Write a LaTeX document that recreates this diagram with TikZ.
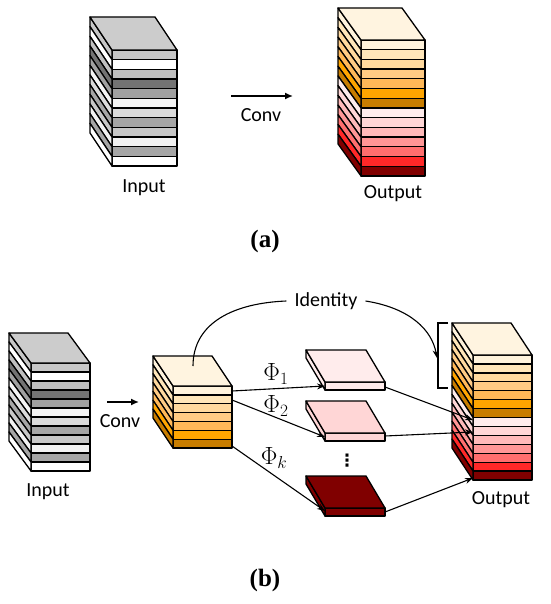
\documentclass[tikz,border=0pt]{standalone}
\usepackage{fontspec}
\setmainfont{Carlito}
\newfontfamily\labfont{Liberation Serif}
\newfontfamily\symfont{DejaVu Sans}
\usetikzlibrary{arrows.meta}
\definecolor{gA}{gray}{0.78}
\definecolor{gB}{gray}{1.0}
\definecolor{gC}{gray}{0.75}
\definecolor{gD}{gray}{0.45}
\definecolor{gE}{gray}{0.63}
\definecolor{gF}{gray}{0.96}
\definecolor{gG}{gray}{0.86}
\definecolor{gH}{gray}{0.65}
\definecolor{gI}{gray}{0.78}
\definecolor{gJ}{gray}{0.95}
\definecolor{gK}{gray}{0.65}
\definecolor{gL}{gray}{1.0}
\definecolor{gTop}{gray}{0.80}
\definecolor{oTop}{RGB}{255,244,224}
\definecolor{oA}{RGB}{255,243,220}
\definecolor{oB}{RGB}{255,230,185}
\definecolor{oC}{RGB}{255,217,158}
\definecolor{oD}{RGB}{255,203,132}
\definecolor{oE}{RGB}{255,184,88}
\definecolor{oF}{RGB}{255,165,0}
\definecolor{oG}{RGB}{200,125,0}
\definecolor{rA}{RGB}{255,236,236}
\definecolor{rB}{RGB}{255,214,214}
\definecolor{rC}{RGB}{255,185,185}
\definecolor{rD}{RGB}{255,150,150}
\definecolor{rE}{RGB}{255,110,110}
\definecolor{rF}{RGB}{255,40,40}
\definecolor{rG}{RGB}{128,0,0}
\tikzset{
  blockline/.style={draw=black, line width=1.3pt, line join=round},
  conn/.style={draw=black, line width=1.1pt, -{Stealth[length=8pt,width=6pt]}},
  bigconn/.style={draw=black, line width=1.5pt, -{Latex[length=8pt,width=7pt]}},
  lab/.style={font=\fontsize{20}{22}\selectfont, inner sep=0pt},
  sublab/.style={font=\labfont\bfseries\fontsize{25}{28}\selectfont, inner sep=0pt},
  philab/.style={font=\fontsize{23}{25}\selectfont, inner sep=0pt}
}
% #1 x, #2 y (front top-left), #3 width, #4 stripe height, #5 dx, #6 dy, #7 top colour, #8 colours
\newcommand{\stackblk}[8]{%
  \foreach \c [count=\i from 0] in {#8} {
    \filldraw[fill=\c, blockline] (#1,#2+\i*#4) rectangle (#1+#3,#2+\i*#4+#4);
    \filldraw[fill=\c, blockline] (#1-#5,#2-#6+\i*#4) -- (#1,#2+\i*#4) -- (#1,#2+\i*#4+#4) -- (#1-#5,#2-#6+\i*#4+#4) -- cycle;
  }
  \filldraw[fill=#7, blockline] (#1-#5,#2-#6) -- (#1+#3-#5,#2-#6) -- (#1+#3,#2) -- (#1,#2) -- cycle;
}
\begin{document}
\begin{tikzpicture}[x=1pt,y=-1pt]
\useasboundingbox (0,0) rectangle (550,604);
\fill[white] (0,0) rectangle (550,604);
% ---------- (a) ----------
\stackblk{112}{50}{65}{9.67}{22}{33}{gTop}{gA,gB,gC,gD,gE,gF,gG,gH,gI,gJ,gK,gL}
\stackblk{361}{40}{64}{9.71}{23}{32}{oTop}{oA,oB,oC,oD,oE,oF,oG,rA,rB,rC,rD,rE,rF,rG}
\node[lab] (inA) at (144,188) {Input};
\node[lab] (outA) at (393,194) {Output};
\coordinate (convAs) at (231,96);
\coordinate (convAe) at (293,96);
\draw[bigconn] (convAs) -- (convAe);
\node[lab] (convA) at (261,115) {Conv};
\node[sublab] (capA) at (265,241) {(a)};
% ---------- (b) ----------
\stackblk{31}{363}{59}{9}{22}{30}{gTop}{gA,gB,gC,gD,gE,gF,gG,gH,gI,gJ,gK,gL}
\stackblk{173}{386}{59}{8.86}{20}{30}{oTop}{oA,oB,oC,oD,oE,oF,oG}
\stackblk{325}{382}{60}{8}{19}{32}{rA}{rA}
\stackblk{325}{433}{60}{8}{19}{32}{rB}{rB}
\stackblk{325}{508}{60}{8}{19}{32}{rG}{rG}
\stackblk{473}{355}{59}{8.93}{21}{32}{oTop}{oA,oB,oC,oD,oE,oF,oG,rA,rB,rC,rD,rE,rF,rG}
\node[lab] (inB) at (48,492) {Input};
\node[lab] (outB) at (501,500) {Output};
\coordinate (convBs) at (107,402);
\coordinate (convBe) at (139,402);
\draw[bigconn] (convBs) -- (convBe);
\node[lab] (convB) at (120,421) {Conv};
% connectors from the conv block to the slabs
\coordinate (m1) at (232,391);
\coordinate (m2) at (232,400);
\coordinate (mk) at (232,446);
\coordinate (s1in) at (325,386);
\coordinate (s2in) at (325,437);
\coordinate (skin) at (325,511);
\draw[conn] (m1) -- (s1in);
\draw[conn] (m2) -- (s2in);
\draw[conn] (mk) -- (skin);
\node[philab] (phi1) at (276,374) {$\Phi_1$};
\node[philab] (phi2) at (276,406) {$\Phi_2$};
\node[philab] (phik) at (274,458) {$\Phi_k$};
\node[font=\symfont\bfseries\fontsize{17}{19}\selectfont, inner sep=0pt] (dots) at (347,461) {⋮};
% connectors from the slabs to the output
\coordinate (s1out) at (385,387);
\coordinate (s2out) at (385,436);
\coordinate (skout) at (385,512);
\coordinate (o1) at (473,420);
\coordinate (o2) at (473,432);
\coordinate (ok) at (473,478);
\draw[conn] (s1out) -- (o1);
\draw[conn] (s2out) -- (o2);
\draw[conn] (skout) -- (ok);
% identity
\node[lab] (ident) at (326,301) {Identity};
\coordinate (idS) at (193,366);
\coordinate (idE) at (437,358);
\draw[line width=1.1pt] (idS) .. controls (193,322) and (235,303) .. ([xshift=-8pt]ident.west);
\draw[conn] ([xshift=8pt]ident.east) .. controls (410,308) and (432,330) .. (idE);
\draw[line width=1.1pt] (448,323) -- (438,323) -- (438,388) -- (448,388);
\node[sublab] (capB) at (265,580) {(b)};
\end{tikzpicture}
\end{document}
